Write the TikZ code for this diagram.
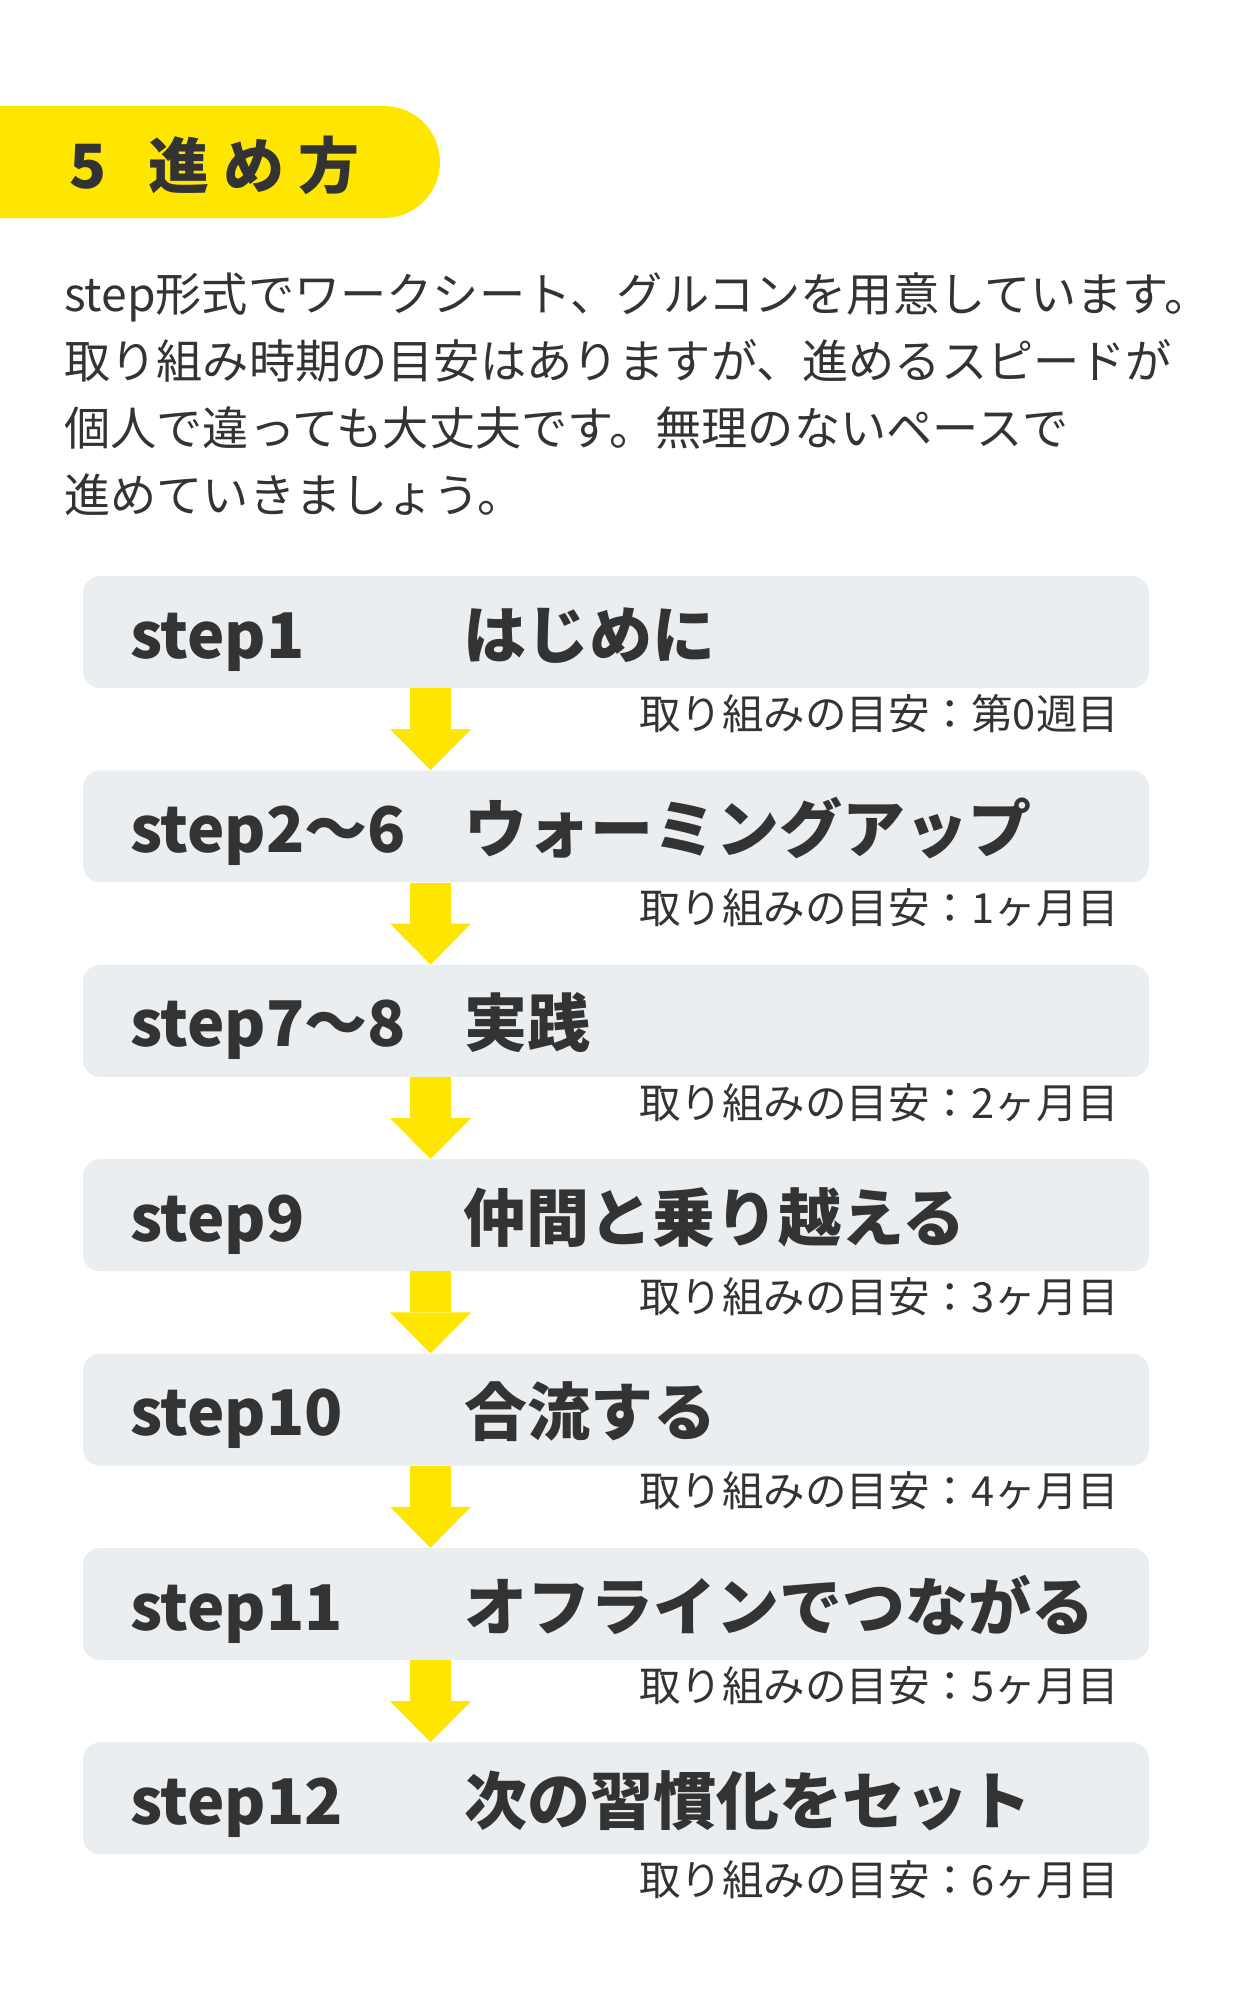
\documentclass[tikz,border=0pt]{standalone}
\usepackage{fontspec}
\setmainfont{Noto Sans CJK JP}
\usepackage{xcolor}
\usetikzlibrary{positioning,arrows.meta}
\definecolor{hdyellow}{HTML}{FFE600}
\definecolor{boxgray}{HTML}{EBEEF1}
\definecolor{ink}{HTML}{333333}

\begin{document}
\begin{tikzpicture}[x=1pt, y=-1pt, node distance={82pt},
    box/.style = {rectangle, fill=boxgray, rounded corners=17pt, minimum width=1066pt, minimum height=112pt, inner sep=0pt},
    steplbl/.style = {anchor=base west, inner sep=0pt, text=ink, font=\bfseries\fontsize{63}{70}\selectfont},
    goal/.style = {anchor=base east, inner sep=0pt, text=ink, font=\fontsize{41.5}{50}\selectfont},
    flow/.style = {draw=hdyellow, line width=41pt, -{Triangle[width=81pt, length=41pt, line width=0pt, fill=hdyellow]}}]
    \useasboundingbox (0,0) rectangle (1235,2000);
    % header
    \fill[hdyellow, rounded corners=56pt] (-80,106) rectangle (440,218);
    \node[anchor=base west, inner sep=0pt, text=ink, font=\bfseries\fontsize{61}{70}\selectfont] (hd) at (69,188) {5\hspace{42pt}進\hspace{14pt}め\hspace{14pt}方};
    \node[anchor=north west, inner sep=0pt, align=left, text=ink, font=\fontsize{46.2}{67}\selectfont] (intro) at (64,272)
        {step形式でワークシート、グルコンを用意しています。\\
         取り組み時期の目安はありますが、進めるスピードが\\
         個人で違っても大丈夫です。無理のないペースで\\
         進めていきましょう。};
    % steps
    \node[box] (b1) at (616,632) {};
    \node[box] (b2) [below =of b1] {};
    \node[box] (b3) [below =of b2] {};
    \node[box] (b4) [below =of b3] {};
    \node[box] (b5) [below =of b4] {};
    \node[box] (b6) [below =of b5] {};
    \node[box] (b7) [below =of b6] {};
    \node[steplbl] (l1) at ([xshift=47pt,yshift=-26pt]b1.west) {step1};
    \node[steplbl] (l2) at ([xshift=47pt,yshift=-26pt]b2.west) {step2～6};
    \node[steplbl] (l3) at ([xshift=47pt,yshift=-26pt]b3.west) {step7～8};
    \node[steplbl] (l4) at ([xshift=47pt,yshift=-26pt]b4.west) {step9};
    \node[steplbl] (l5) at ([xshift=47pt,yshift=-26pt]b5.west) {step10};
    \node[steplbl] (l6) at ([xshift=47pt,yshift=-26pt]b6.west) {step11};
    \node[steplbl] (l7) at ([xshift=47pt,yshift=-26pt]b7.west) {step12};
    \node[steplbl] (t1) at ([xshift=380pt,yshift=-26pt]b1.west) {はじめに};
    \node[steplbl] (t2) at ([xshift=381pt,yshift=-26pt]b2.west) {ウォーミングアップ};
    \node[steplbl] (t3) at ([xshift=381pt,yshift=-26pt]b3.west) {実践};
    \node[steplbl] (t4) at ([xshift=380pt,yshift=-26pt]b4.west) {仲間と乗り越える};
    \node[steplbl] (t5) at ([xshift=381pt,yshift=-26pt]b5.west) {合流する};
    \node[steplbl] (t6) at ([xshift=381pt,yshift=-26pt]b6.west) {オフラインでつながる};
    \node[steplbl] (t7) at ([xshift=381pt,yshift=-26pt]b7.west) {次の習慣化をセット};
    \node[goal] (g1) at ([xshift=-30pt,yshift=-41pt]b1.south east) {取り組みの目安：第0週目};
    \node[goal] (g2) at ([xshift=-30pt,yshift=-41pt]b2.south east) {取り組みの目安：1ヶ月目};
    \node[goal] (g3) at ([xshift=-30pt,yshift=-41pt]b3.south east) {取り組みの目安：2ヶ月目};
    \node[goal] (g4) at ([xshift=-30pt,yshift=-41pt]b4.south east) {取り組みの目安：3ヶ月目};
    \node[goal] (g5) at ([xshift=-30pt,yshift=-41pt]b5.south east) {取り組みの目安：4ヶ月目};
    \node[goal] (g6) at ([xshift=-30pt,yshift=-41pt]b6.south east) {取り組みの目安：5ヶ月目};
    \node[goal] (g7) at ([xshift=-30pt,yshift=-41pt]b7.south east) {取り組みの目安：6ヶ月目};
    \draw[flow] ([xshift=-185.5pt]b1.south) -- ([xshift=-185.5pt]b2.north);
    \draw[flow] ([xshift=-185.5pt]b2.south) -- ([xshift=-185.5pt]b3.north);
    \draw[flow] ([xshift=-185.5pt]b3.south) -- ([xshift=-185.5pt]b4.north);
    \draw[flow] ([xshift=-185.5pt]b4.south) -- ([xshift=-185.5pt]b5.north);
    \draw[flow] ([xshift=-185.5pt]b5.south) -- ([xshift=-185.5pt]b6.north);
    \draw[flow] ([xshift=-185.5pt]b6.south) -- ([xshift=-185.5pt]b7.north);
\end{tikzpicture}
\end{document}
